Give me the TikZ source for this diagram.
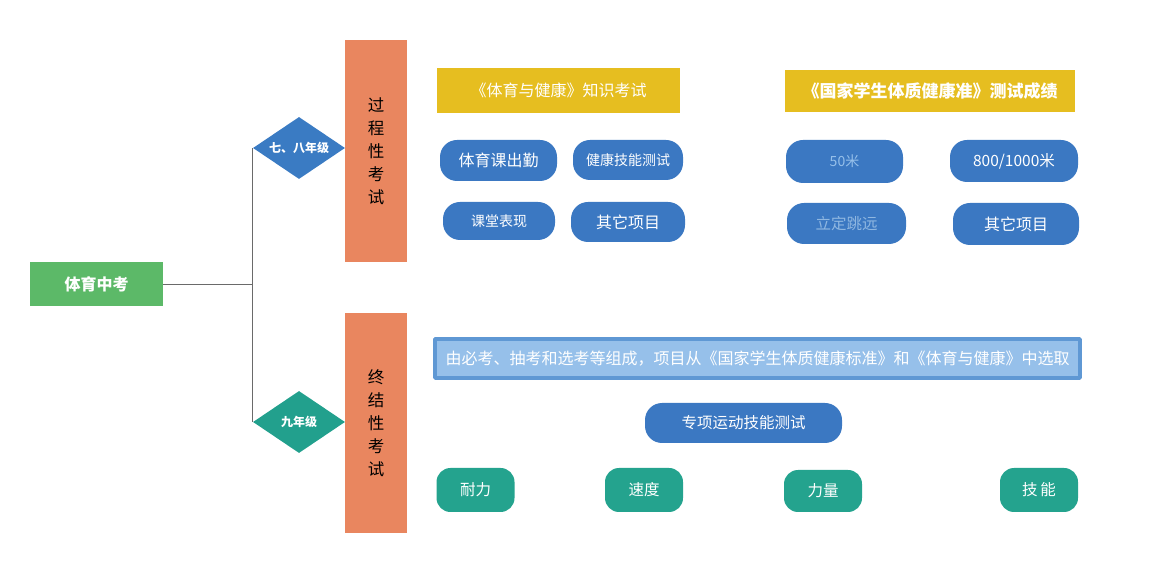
\documentclass[tikz,border=0pt]{standalone}
\usepackage{fontspec}
\setmainfont{Noto Sans CJK SC}
\usetikzlibrary{shapes.geometric}
\definecolor{rootgreen}{HTML}{5CB968}
\definecolor{gradeblue}{HTML}{3A7BC3}
\definecolor{gradeteal}{HTML}{22A08D}
\definecolor{stageorange}{HTML}{E9865F}
\definecolor{baryellow}{HTML}{E6BE20}
\definecolor{pillblue}{HTML}{3B78C2}
\definecolor{pillteal}{HTML}{24A38E}
\definecolor{barblue}{HTML}{5F98D4}
\definecolor{barlight}{HTML}{96C0EA}
\definecolor{linegray}{HTML}{6A6A6A}
\tikzset{
  bluepill/.style={draw=none,fill=pillblue,text=white,rounded corners=17bp,inner sep=0pt,font=\fontsize{15.5bp}{18bp}\selectfont},
  tealpill/.style={draw=none,fill=pillteal,text=white,rounded corners=14bp,inner sep=0pt,minimum width=78bp,minimum height=44bp,font=\fontsize{15.5bp}{18bp}\selectfont},
  yellowbar/.style={draw=none,fill=baryellow,text=white,inner sep=0pt,font=\fontsize{16bp}{18bp}\selectfont},
  stagebox/.style={draw=none,fill=stageorange,text=black,inner sep=0pt,minimum width=62bp,align=center,font=\fontsize{16.5bp}{23bp}\selectfont},
  gradebox/.style={diamond,draw=none,text=white,aspect=1.5,inner sep=0pt,minimum width=92bp,minimum height=62bp,font=\bfseries\fontsize{12bp}{14bp}\selectfont},
}
\begin{document}
\begin{tikzpicture}[>=latex,line join=bevel,]
\useasboundingbox (0bp,0bp) rectangle (1161bp,582bp);
%%
\node (node_root) at (96.5bp,298bp) [draw=none,fill=rootgreen,text=white,minimum width=133bp,minimum height=44bp,font=\bfseries\fontsize{16bp}{18bp}\selectfont] {体育中考};
  \node (node_g78) at (299bp,434bp) [gradebox,fill=gradeblue] {七、八年级};
  \node (node_g9) at (299bp,160bp) [gradebox,fill=gradeteal] {九年级};
  \node (node_proc) at (376bp,431bp) [stagebox,minimum height=222bp] {过\\程\\性\\考\\试};
  \node (node_final) at (376bp,159bp) [stagebox,minimum height=220bp] {终\\结\\性\\考\\试};
%
  \draw [linegray,line width=0.8pt] (node_root.east) -| (node_g78.west);
  \draw [linegray,line width=0.8pt] (node_root.east) -| (node_g9.west);
%
  \node (node_know) at (558.5bp,491.5bp) [yellowbar,minimum width=243bp,minimum height=45bp] {《体育与健康》知识考试};
  \node (node_std) at (930bp,491bp) [yellowbar,minimum width=290bp,minimum height=42bp,font=\bfseries\fontsize{17bp}{18bp}\selectfont] {《国家学生体质健康准》测试成绩};
  \node (node_attend) at (498.5bp,421.5bp) [bluepill,minimum width=117bp,minimum height=41bp,font=\fontsize{16bp}{18bp}\selectfont] {体育课出勤};
  \node (node_skill) at (628bp,422bp) [bluepill,minimum width=110bp,minimum height=40bp,font=\fontsize{14bp}{16bp}\selectfont] {健康技能测试};
  \node (node_class) at (499bp,361bp) [bluepill,minimum width=112bp,minimum height=38bp,font=\fontsize{14bp}{16bp}\selectfont] {课堂表现};
  \node (node_other_a) at (628bp,360bp) [bluepill,minimum width=114bp,minimum height=40bp,font=\fontsize{16bp}{18bp}\selectfont] {其它项目};
  \node (node_run50) at (844.5bp,420.5bp) [bluepill,minimum width=117bp,minimum height=43bp,text=barlight,font=\itshape\fontsize{14bp}{16bp}\selectfont] {50米};
  \node (node_run800) at (1014bp,421bp) [bluepill,minimum width=128bp,minimum height=42bp] {800/1000米};
  \node (node_jump) at (846.5bp,358.5bp) [bluepill,minimum width=119bp,minimum height=41bp,text=barblue!70!white] {立定跳远};
  \node (node_other_b) at (1016bp,358bp) [bluepill,minimum width=126bp,minimum height=42bp,font=\fontsize{16bp}{18bp}\selectfont] {其它项目};
%
  \node (node_rule) at (757.5bp,223.5bp) [draw=barblue,line width=4bp,fill=barlight,text=white,minimum width=645bp,minimum height=39bp,inner sep=0pt,font=\fontsize{16bp}{18bp}\selectfont] {由必考、抽考和选考等组成，项目从《国家学生体质健康标准》和《体育与健康》中选取};
  \node (node_sport) at (743.5bp,159bp) [bluepill,minimum width=197bp,minimum height=40bp] {专项运动技能测试};
  \node (node_endur) at (475.5bp,92bp) [tealpill] {耐力};
  \node (node_speed) at (644bp,92bp) [tealpill] {速度};
  \node (node_power) at (823bp,91bp) [tealpill,minimum height=42bp] {力量};
  \node (node_tech) at (1039bp,92bp) [tealpill] {技\,能};
%
\end{tikzpicture}
\end{document}
